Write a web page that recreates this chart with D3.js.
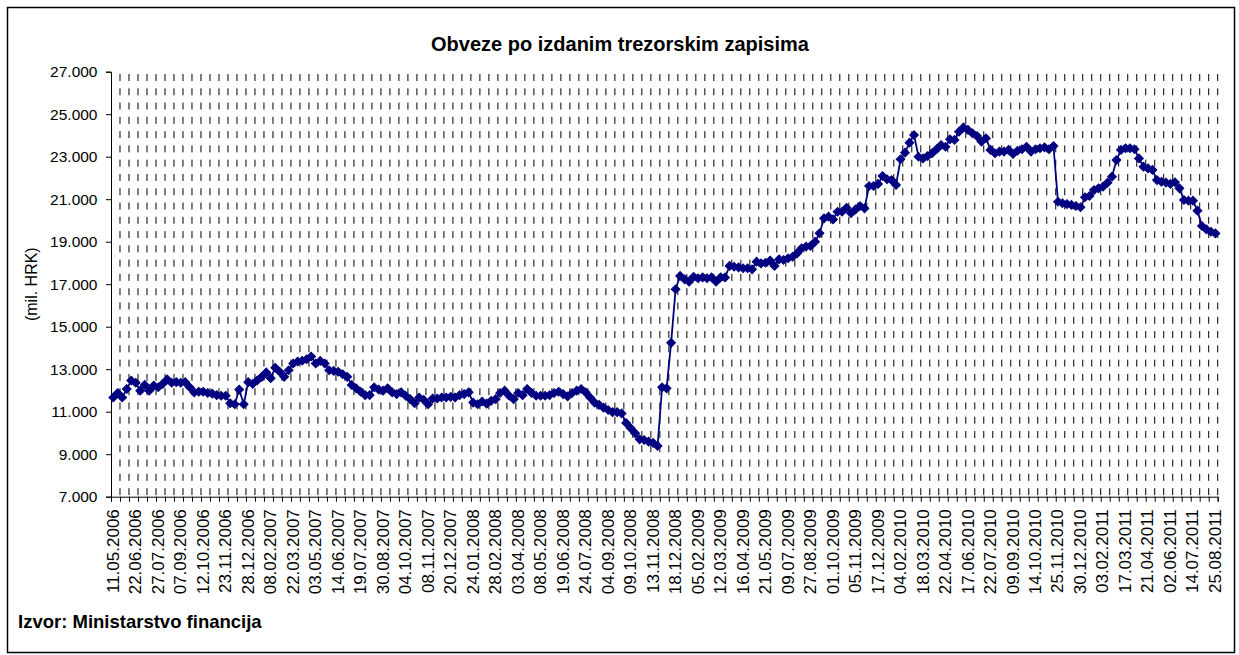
<!DOCTYPE html>
<html>
<head>
<meta charset="utf-8">
<script src="https://cdn.jsdelivr.net/npm/d3@7"></script>
<style>
  body { margin: 0; background: #fff; }
  svg { display: block; font-family: "Liberation Sans", Arial, sans-serif; }
</style>
</head>
<body>
<div id="main"></div>
<script>
const chartTitle = 'Obveze po izdanim trezorskim zapisima';
const yTitle = '(mil. HRK)';
const sourceText = 'Izvor: Ministarstvo financija';

// one label every 5th observation
const tickLabels = [
    '11.05.2006', '22.06.2006', '27.07.2006', '07.09.2006', '12.10.2006', '23.11.2006', '28.12.2006',
    '08.02.2007', '22.03.2007', '03.05.2007', '14.06.2007', '19.07.2007', '30.08.2007', '04.10.2007',
    '08.11.2007', '20.12.2007', '24.01.2008', '28.02.2008', '03.04.2008', '08.05.2008', '19.06.2008',
    '24.07.2008', '04.09.2008', '09.10.2008', '13.11.2008', '18.12.2008', '05.02.2009', '12.03.2009',
    '16.04.2009', '21.05.2009', '09.07.2009', '27.08.2009', '01.10.2009', '05.11.2009', '17.12.2009',
    '04.02.2010', '18.03.2010', '22.04.2010', '17.06.2010', '22.07.2010', '09.09.2010', '14.10.2010',
    '25.11.2010', '30.12.2010', '03.02.2011', '17.03.2011', '21.04.2011', '02.06.2011', '14.07.2011',
    '25.08.2011'
];
const labelStep = 5;

const yTicks = [7000, 9000, 11000, 13000, 15000, 17000, 19000, 21000, 23000, 25000, 27000];

// mil. HRK, weekly
const values = [
    11670, 11880, 11670, 12070, 12470, 12360, 11990, 12260, 11990, 12230,
    12150, 12310, 12520, 12360, 12390, 12360, 12390, 12150, 11910, 11940,
    11940, 11880, 11850, 11780, 11750, 11750, 11400, 11350, 12040, 11350,
    12390, 12310, 12470, 12640, 12850, 12580, 13070, 12880, 12640, 12950,
    13270, 13360, 13400, 13470, 13600, 13270, 13390, 13270, 12950, 12920,
    12880, 12760, 12640, 12260, 12100, 11940, 11780, 11780, 12150, 12040,
    11990, 12100, 11910, 11830, 11910, 11750, 11590, 11400, 11670, 11560,
    11350, 11620, 11620, 11670, 11670, 11700, 11670, 11780, 11830, 11910,
    11430, 11350, 11480, 11380, 11510, 11590, 11880, 11990, 11750, 11590,
    11880, 11780, 12070, 11880, 11750, 11750, 11750, 11780, 11880, 11940,
    11830, 11720, 11880, 11990, 12070, 11910, 11670, 11430, 11320, 11190,
    11080, 10980, 10980, 10920, 10470, 10230, 9990, 9700, 9670, 9590,
    9530, 9390, 12150, 12100, 14240, 16760, 17390, 17230, 17120, 17350,
    17280, 17320, 17280, 17320, 17120, 17320, 17320, 17860, 17820, 17790,
    17750, 17750, 17700, 18060, 17980, 18010, 18110, 17860, 18170, 18140,
    18220, 18290, 18450, 18690, 18770, 18800, 19000, 19400, 20100, 20180,
    20050, 20410, 20410, 20600, 20340, 20520, 20680, 20570, 21620, 21620,
    21720, 22090, 21940, 21900, 21670, 22880, 23190, 23660, 24020, 23000,
    22920, 23030, 23160, 23350, 23550, 23470, 23820, 23790, 24180, 24380,
    24260, 24100, 23970, 23710, 23870, 23320, 23160, 23240, 23240, 23320,
    23130, 23280, 23350, 23470, 23240, 23350, 23400, 23440, 23350, 23500,
    20880, 20810, 20770, 20730, 20680, 20620, 21090, 21150, 21430, 21510,
    21590, 21780, 22060, 22840, 23320, 23400, 23400, 23350, 22920, 22530,
    22450, 22380, 21900, 21820, 21780, 21720, 21800, 21510, 20960, 20930,
    20930, 20460, 19740, 19580, 19470, 19390
];

const W = 1239, H = 655;
const plot = { left: 111, right: 1217.7, top: 71.7, bottom: 496.7 };
const lineColor = '#000080';

const svg = d3.select('#main').append('svg')
    .attr('width', W)
    .attr('height', H);

svg.append('rect')
    .attr('width', W).attr('height', H)
    .attr('fill', '#fff');

// frame
svg.append('rect')
    .attr('x', 7.5).attr('y', 7.5)
    .attr('width', 1227).attr('height', 645)
    .attr('fill', 'none')
    .attr('stroke', '#000')
    .attr('stroke-width', 1.5);

const idx = d3.range(values.length);
const x = d3.scaleBand().domain(idx).range([plot.left, plot.right]).padding(0);
const xEdge = d3.scaleLinear().domain([0, values.length]).range([plot.left, plot.right]);
const y = d3.scaleLinear().domain([7000, 27000]).range([plot.bottom, plot.top]);

const hr = d3.formatLocale({ decimal: ',', thousands: '.', grouping: [3], currency: ['', ''] });
const fmt = hr.format(',.0f');

const gridVals = d3.range(2, values.length + 1, 2);

// vertical dashed grid
svg.append('g')
    .selectAll('line')
    .data(gridVals)
    .join('line')
    .attr('x1', d => xEdge(d)).attr('x2', d => xEdge(d))
    .attr('y1', plot.top + 2.3).attr('y2', plot.bottom)
    .attr('stroke', '#000')
    .attr('stroke-width', 1)
    .attr('stroke-dasharray', '7,7.28');

// y axis
const yAxis = svg.append('g')
    .attr('transform', `translate(${plot.left},0)`)
    .call(d3.axisLeft(y).tickValues(yTicks).tickFormat(fmt).tickSize(5).tickPadding(8.5));
yAxis.select('.domain').attr('stroke', '#000');
yAxis.selectAll('.tick line').attr('stroke', '#000');
yAxis.selectAll('text')
    .attr('font-family', '"Liberation Sans", Arial, sans-serif')
    .attr('font-size', 15.5)
    .attr('fill', '#000');

// x axis ticks (between categories)
const xTickAxis = svg.append('g')
    .attr('transform', `translate(0,${plot.bottom})`)
    .call(d3.axisBottom(xEdge).tickValues(d3.range(0, values.length + 1, 2)).tickFormat('').tickSizeOuter(0).tickSize(5));
xTickAxis.select('.domain').attr('stroke', '#000');
xTickAxis.selectAll('.tick line').attr('stroke', '#000');

// x labels
const labelIdx = tickLabels.map((d, i) => i * labelStep);
const xLabelAxis = svg.append('g')
    .attr('transform', `translate(0,${plot.bottom})`)
    .call(d3.axisBottom(x).tickValues(labelIdx).tickFormat(i => tickLabels[i / labelStep]).tickSize(0));
xLabelAxis.select('.domain').remove();
xLabelAxis.selectAll('text')
    .attr('font-family', '"Liberation Sans", Arial, sans-serif')
    .attr('font-size', 17)
    .attr('fill', '#000')
    .attr('text-anchor', 'end')
    .attr('dy', null)
    .attr('dominant-baseline', 'central')
    .attr('transform', 'rotate(-90)')
    .attr('x', -12.5)
    .attr('y', 0);

// series
const line = d3.line()
    .x(d => x(d) + x.bandwidth() / 2)
    .y(d => y(values[d]));

svg.append('path')
    .datum(idx)
    .attr('d', line)
    .attr('fill', 'none')
    .attr('stroke', lineColor)
    .attr('stroke-width', 1.8);

const marker = d3.symbol(d3.symbolSquare, 38);
svg.append('g')
    .selectAll('path')
    .data(idx)
    .join('path')
    .attr('d', marker)
    .attr('transform', d => `translate(${x(d) + x.bandwidth() / 2},${y(values[d])}) rotate(45)`)
    .attr('fill', lineColor)
    .attr('stroke', lineColor)
    .attr('stroke-width', 1);

// titles
svg.append('text')
    .attr('x', 620).attr('y', 51)
    .attr('text-anchor', 'middle')
    .attr('font-size', 20)
    .attr('font-weight', 'bold')
    .text(chartTitle);

svg.append('text')
    .attr('transform', `translate(37,${(plot.top + plot.bottom) / 2}) rotate(-90)`)
    .attr('text-anchor', 'middle')
    .attr('font-size', 16)
    .text(yTitle);

svg.append('text')
    .attr('x', 18).attr('y', 628)
    .attr('font-size', 18.5)
    .attr('font-weight', 'bold')
    .text(sourceText);
</script>
</body>
</html>
